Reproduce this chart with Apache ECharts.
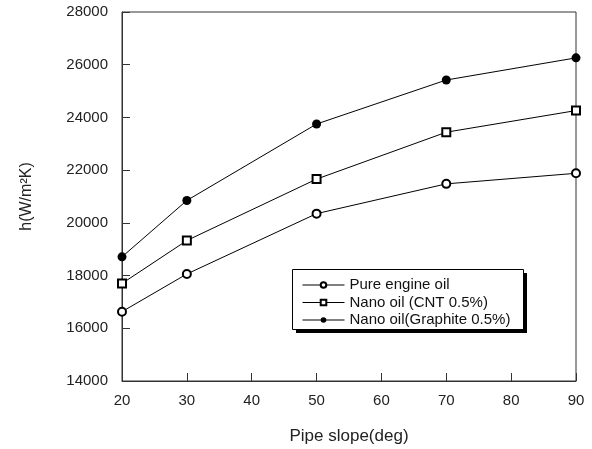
<!DOCTYPE html>
<html>
<head>
<meta charset="utf-8">
<script src="https://cdn.jsdelivr.net/npm/echarts@6/dist/echarts.min.js"></script>
<style>
  html, body { margin: 0; padding: 0; background: #fff; }
  #chart { width: 592px; height: 449px; }
</style>
</head>
<body>
<div id="chart"></div>
<script>
  // pipe slope, deg
  const slopes = [20, 30, 50, 70, 90];
  // heat transfer coefficient h (W/m2K)
  const pureOil = [16630, 18060, 20350, 21480, 21880];
  const cntOil = [17700, 19330, 21660, 23440, 24260];
  const graphiteOil = [18710, 20850, 23750, 25420, 26260];

  const font = '"Liberation Sans", Arial, sans-serif';
  const myChart = echarts.init(document.getElementById('chart'));

  function pairs(vals) {
    return slopes.map((s, i) => [s, vals[i]]);
  }

  const axisLine = { show: true, lineStyle: { color: '#333', width: 1 } };
  const tick = { show: true, inside: true, length: 8, lineStyle: { color: '#333' } };

  const option = {
    animation: false,
    backgroundColor: '#fff',
    grid: {
      left: 122, right: 16, top: 12, bottom: 68,
      outerBoundsMode: 'none',
      show: true, borderColor: '#333', borderWidth: 1
    },
    // legend frame: white box, outline, and a hard black shadow on right/bottom
    graphic: [
      {
        type: 'rect', z: 3, z2: 1,
        shape: { x: 292, y: 269, width: 231, height: 60 },
        style: { fill: '#fff' }
      },
      {
        type: 'rect', z: 3, z2: 2,
        shape: { x: 523, y: 273, width: 4, height: 60 },
        style: { fill: '#000' }
      },
      {
        type: 'rect', z: 3, z2: 2,
        shape: { x: 296, y: 329, width: 231, height: 4 },
        style: { fill: '#000' }
      },
      {
        type: 'rect', z: 3, z2: 3,
        shape: { x: 292.5, y: 269.5, width: 231, height: 60 },
        style: { fill: null, stroke: '#000', lineWidth: 1 }
      }
    ],
    legend: {
      orient: 'vertical',
      left: 292, top: 269, z: 5,
      padding: [8, 8, 3, 10],
      itemWidth: 42, itemHeight: 7, itemGap: 1.5,
      itemStyle: { borderWidth: 1 },
      lineStyle: { width: 1 },
      textStyle: { fontFamily: font, fontSize: 15, lineHeight: 16, color: '#111' },
      data: ['Pure engine oil', 'Nano oil (CNT 0.5%)', 'Nano oil(Graphite 0.5%)']
    },
    xAxis: {
      type: 'value',
      min: 20, max: 90, interval: 10,
      name: 'Pipe slope(deg)',
      nameLocation: 'middle', nameGap: 47,
      nameTextStyle: { fontFamily: font, fontSize: 17, color: '#222' },
      axisLine: axisLine,
      axisTick: tick,
      axisLabel: { fontFamily: font, fontSize: 15, color: '#222', margin: 12 },
      splitLine: { show: false }
    },
    yAxis: {
      type: 'value',
      min: 14000, max: 28000, interval: 2000,
      name: 'h(W/m²K)',
      nameLocation: 'middle', nameGap: 87, nameRotate: 90,
      nameTextStyle: { fontFamily: font, fontSize: 16, color: '#222' },
      axisLine: axisLine,
      axisTick: tick,
      axisLabel: {
        fontFamily: font, fontSize: 15, color: '#222', margin: 14,
        formatter: (v) => String(v)
      },
      splitLine: { show: false }
    },
    series: [
      {
        name: 'Pure engine oil',
        type: 'line',
        data: pairs(pureOil),
        symbol: 'emptyCircle', symbolSize: 8,
        lineStyle: { color: '#000', width: 1 },
        itemStyle: { color: '#000', borderColor: '#000', borderWidth: 1 }
      },
      {
        name: 'Nano oil (CNT 0.5%)',
        type: 'line',
        data: pairs(cntOil),
        symbol: 'emptyRect', symbolSize: 8,
        lineStyle: { color: '#000', width: 1 },
        itemStyle: { color: '#000', borderColor: '#000', borderWidth: 1 }
      },
      {
        name: 'Nano oil(Graphite 0.5%)',
        type: 'line',
        data: pairs(graphiteOil),
        symbol: 'circle', symbolSize: 9,
        lineStyle: { color: '#000', width: 1 },
        itemStyle: { color: '#000' }
      }
    ]
  };

  myChart.setOption(option);
</script>
</body>
</html>
